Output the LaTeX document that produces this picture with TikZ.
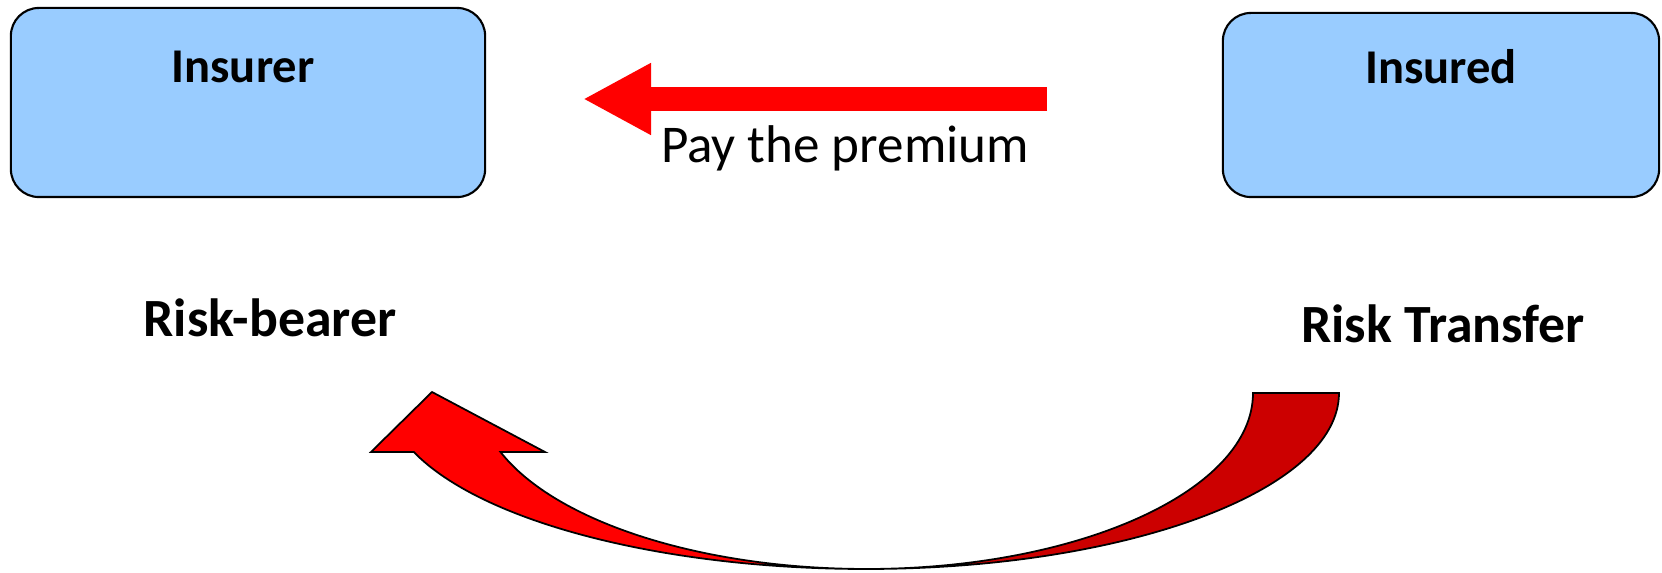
\documentclass[tikz,border=0pt]{standalone}
\usepackage{fontspec}
\setmainfont{Carlito}
\usepackage{xcolor}
\usepackage{tikz}
\usetikzlibrary{arrows.meta, positioning}

\definecolor{skyblue}{HTML}{99CCFF}
\definecolor{backred}{HTML}{CC0000}

\begin{document}
\begin{tikzpicture}[
    x=0.01cm, y=-0.01cm,
    party/.style={rectangle, draw=black, fill=skyblue, line width=0.6pt, rounded corners=0.28cm, inner sep=0pt},
    partytext/.style={inner sep=0pt, font=\fontsize{13.8}{16}\selectfont\bfseries},
    role/.style={font=\fontsize{15.3}{18}\selectfont\bfseries},
    blockarrow/.style={line width=0.24cm, draw=red, -{Triangle[length=0.68cm, width=0.67cm]}},
    bendarrow/.style={draw=black, line width=0.5pt, line join=miter}
]
\useasboundingbox (0,0) rectangle (1662,573);

\node (insurer) [party, minimum width=4.74cm, minimum height=1.89cm] at (248,102.5) {};
\node (insured) [party, minimum width=4.36cm, minimum height=1.84cm] at (1441,105) {};
\node (insurertext) [partytext, below=0.43cm of insurer.north, xshift=-0.05cm] {Insurer};
\node (insuredtext) [partytext, below=0.37cm of insured.north] {Insured};

% premium flows from the insured to the insurer
\coordinate (premfrom) at (1047,99);
\coordinate (premto) at (583,99);
\draw [blockarrow] (premfrom) -- (premto);
\node (premium) [font=\fontsize{15.1}{18}\selectfont] at (845,148) {Pay the premium};

\node (bearer) [role] at (270,318) {Risk-bearer};
\node (transfer) [role] at (1443,324) {Risk Transfer};

% curved risk arrow, back half first
\draw [bendarrow, fill=backred] (1339,393) arc[start angle=0, end angle=90, x radius=473, y radius=176]
    arc[start angle=90, end angle=0, x radius=387, y radius=176] -- cycle;
\draw [bendarrow, fill=red] (866,569) arc[start angle=90, end angle=160.4, x radius=480, y radius=176]
    -- (371,452) -- (432,392) -- (545,452) -- (500.5,452)
    arc[start angle=160.4, end angle=90, x radius=388, y radius=176] -- cycle;
\end{tikzpicture}
\end{document}
